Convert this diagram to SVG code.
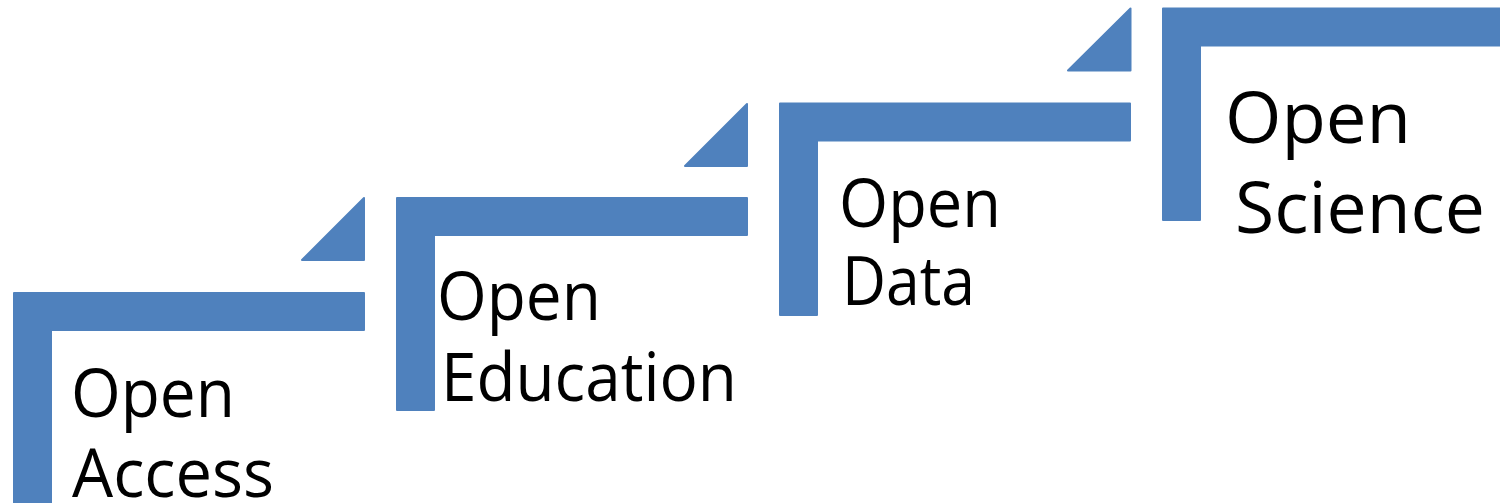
<svg xmlns="http://www.w3.org/2000/svg" width="1500" height="503" viewBox="0 0 1500 503">
<style>
.step{fill:#4F81BD;stroke:#4F81BD;stroke-width:2;stroke-linejoin:round}
.lbl{font-family:"Open Sans","Noto Sans","DejaVu Sans",sans-serif;fill:#000;font-size:67px}
.big{font-size:72px}
</style>
<rect width="1500" height="503" fill="#fff"/>
<g id="open-access">
<path class="step" d="M14,293 H364 V330 H51 V512 H14 Z"/>
<path class="step" d="M302,260 L364,198 V260 Z"/>
<text class="lbl" x="71" y="417" textLength="164" lengthAdjust="spacingAndGlyphs">Open</text>
<text class="lbl" x="72" y="497" textLength="202" lengthAdjust="spacingAndGlyphs">Access</text>
</g>
<g id="open-education">
<path class="step" d="M397,198 H747 V235 H434 V410 H397 Z"/>
<path class="step" d="M685,166 L747,104 V166 Z"/>
<text class="lbl" x="437" y="320" textLength="164" lengthAdjust="spacingAndGlyphs">Open</text>
<text class="lbl" x="441" y="401" textLength="296" lengthAdjust="spacingAndGlyphs">Education</text>
</g>
<g id="open-data">
<path class="step" d="M780,103.5 H1130 V140.5 H817 V315 H780 Z"/>
<path class="step" d="M1068,70.5 L1130.5,8.5 V70.5 Z"/>
<text class="lbl" x="839" y="227" textLength="162" lengthAdjust="spacingAndGlyphs">Open</text>
<text class="lbl" x="842" y="305" textLength="133" lengthAdjust="spacingAndGlyphs">Data</text>
</g>
<g id="open-science">
<path class="step" d="M1163,8.5 H1512 V45.5 H1200 V220 H1163 Z"/>
<text class="lbl big" x="1225" y="143" textLength="186" lengthAdjust="spacingAndGlyphs">Open</text>
<text class="lbl big" x="1235" y="233" textLength="250" lengthAdjust="spacingAndGlyphs">Science</text>
</g>
<g id="connectors"></g>
</svg>
